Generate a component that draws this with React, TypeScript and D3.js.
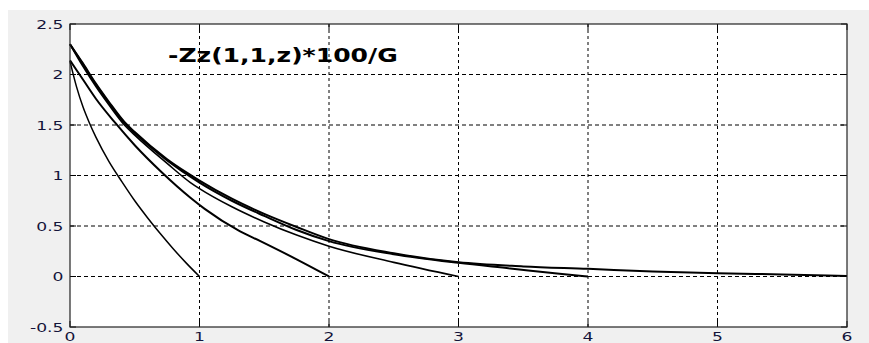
import React from 'react';
import * as d3 from 'd3';

// curves, one per layer thickness (ends at z = 1, 2, 3, 4, 6)
const zA = [0, 0.05, 0.1, 0.15, 0.2, 0.3, 0.4, 0.5, 0.6, 0.7, 0.8, 0.9, 1.0];
const vA = [2.13, 1.88, 1.68, 1.52, 1.38, 1.14, 0.94, 0.75, 0.58, 0.42, 0.27, 0.13, 0];

const zB = [0, 0.1, 0.2, 0.35, 0.5, 0.71, 0.93, 1.04, 1.31, 1.47, 1.75, 2.0];
const vB = [2.14, 1.95, 1.76, 1.52, 1.3, 1.03, 0.78, 0.67, 0.45, 0.35, 0.17, 0];

const zC = [0, 0.1, 0.2, 0.3, 0.42, 0.5, 0.75, 0.93, 1.0, 1.25, 1.5, 1.75, 2.0, 2.5, 3.0];
const vC = [2.3, 2.08, 1.88, 1.7, 1.5, 1.4, 1.12, 0.93, 0.87, 0.69, 0.54, 0.41, 0.3, 0.14, 0];

const zD = [0, 0.1, 0.2, 0.3, 0.42, 0.5, 0.75, 1.0, 1.25, 1.5, 1.75, 2.0, 2.5, 3.0, 3.4, 3.78, 4.0];
const vD = [2.3, 2.1, 1.9, 1.72, 1.52, 1.42, 1.15, 0.93, 0.75, 0.6, 0.46, 0.35, 0.22, 0.135, 0.08, 0.027, 0];

const zE = [0, 0.1, 0.2, 0.3, 0.42, 0.5, 0.75, 1.0, 1.25, 1.5, 1.75, 2.0, 2.5, 3.0, 3.5, 4.0, 4.5, 5.0, 5.5, 6.0];
const vE = [2.3, 2.11, 1.91, 1.73, 1.53, 1.43, 1.16, 0.95, 0.77, 0.62, 0.49, 0.37, 0.23, 0.14, 0.1, 0.076, 0.05, 0.033, 0.02, 0.005];

const curves = [
  { z: zA, v: vA, w: 1.5 },
  { z: zB, v: vB, w: 2 },
  { z: zC, v: vC, w: 1.6 },
  { z: zD, v: vD, w: 2 },
  { z: zE, v: vE, w: 2 },
];

const xTicks = [0, 1, 2, 3, 4, 5, 6];
const yTicks = [-0.5, 0, 0.5, 1, 1.5, 2, 2.5];
const title = '-Zz(1,1,z)*100/G';

const W = 869;
const H = 343;
const left = 70;
const right = 847;
const top = 24;
const bottom = 327;
const stretch = 1.32; // the screenshot is wider than tall, text looks stretched

export default function App() {
  const x = d3.scaleLinear().domain([0, 6]).range([left, right]);
  const y = d3.scaleLinear().domain([-0.5, 2.5]).range([bottom, top]);
  const line = d3
    .line<[number, number]>()
    .x((d) => x(d[0]))
    .y((d) => y(d[1]))
    .curve(d3.curveMonotoneX);

  return (
    <svg
      width={W}
      height={H}
      style={{ position: 'absolute', left: 0, top: 0, background: '#fff' }}
    >
      <rect x={8} y={10} width={W - 8} height={H - 10} fill="#f0f0f0" />
      <rect x={left} y={top} width={right - left} height={bottom - top} fill="#fff" />

      {/* grid */}
      {xTicks.slice(1, -1).map((t) => (
        <line key={'gx' + t} x1={x(t)} x2={x(t)} y1={top} y2={bottom}
          stroke="#000" strokeWidth={1} strokeDasharray="3,3" />
      ))}
      {yTicks.slice(1, -1).map((t) => (
        <line key={'gy' + t} x1={left} x2={right} y1={y(t)} y2={y(t)}
          stroke="#000" strokeWidth={1} strokeDasharray="4,3" />
      ))}

      {/* curves */}
      {curves.map((c, i) => (
        <path key={i}
          d={line(c.z.map((z, j) => [z, c.v[j]] as [number, number])) || ''}
          fill="none" stroke="#000" strokeWidth={c.w} strokeLinejoin="round" />
      ))}

      {/* ticks */}
      {xTicks.map((t) => (
        <g key={'tx' + t}>
          <line x1={x(t)} x2={x(t)} y1={bottom} y2={bottom - 6} stroke="#000" />
          <line x1={x(t)} x2={x(t)} y1={top} y2={top + 6} stroke="#000" />
        </g>
      ))}
      {yTicks.map((t) => (
        <g key={'ty' + t}>
          <line x1={left} x2={left + 6} y1={y(t)} y2={y(t)} stroke="#000" />
          <line x1={right} x2={right - 6} y1={y(t)} y2={y(t)} stroke="#000" />
        </g>
      ))}

      <rect x={left} y={top} width={right - left} height={bottom - top}
        fill="none" stroke="#222" strokeWidth={1.2} />

      {/* tick labels */}
      {yTicks.map((t) => (
        <text key={'ly' + t}
          transform={`translate(63.5,${y(t)}) scale(${stretch},1)`}
          dy="0.36em" textAnchor="end"
          fontFamily="DejaVu Sans" fontSize={13} fill="#14143a">
          {String(t)}
        </text>
      ))}
      {xTicks.map((t) => (
        <text key={'lx' + t}
          transform={`translate(${x(t)},341) scale(${stretch},1)`}
          textAnchor="middle"
          fontFamily="DejaVu Sans" fontSize={13} fill="#14143a">
          {t}
        </text>
      ))}

      <text transform={`translate(168,62) scale(${stretch},1)`}
        fontFamily="DejaVu Sans" fontWeight="bold" fontSize={19} fill="#000">
        {title}
      </text>
    </svg>
  );
}
